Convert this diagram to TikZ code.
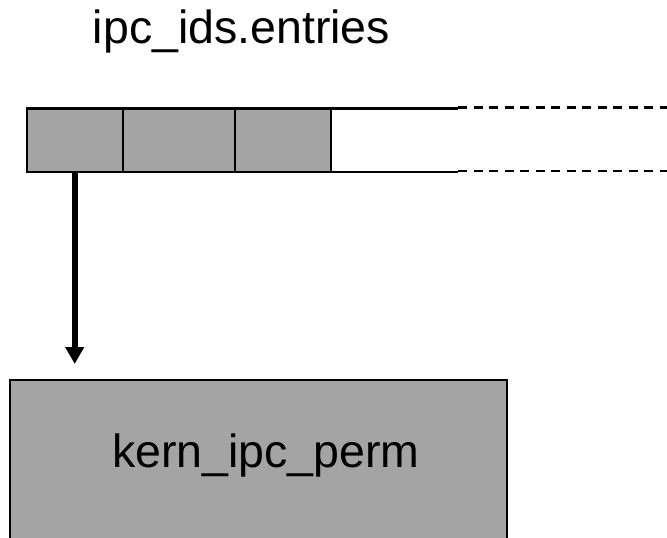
\documentclass[tikz,border=0pt]{standalone}
\usepackage{fontspec}
\setmainfont{Liberation Sans}
\usetikzlibrary{arrows.meta}
\definecolor{boxgray}{RGB}{164,164,164}
\begin{document}
\begin{tikzpicture}[x=1pt,y=-1pt,
  cell/.style={draw=black,line width=2.3pt,fill=boxgray,minimum height=63.5pt,inner sep=0pt,outer sep=0pt,anchor=north west},
  lbl/.style={font=\fontsize{46.5}{55}\selectfont,anchor=base,inner sep=0pt},
  rail/.style={line width=2.3pt},
  dashrail/.style={line width=2.6pt,dash pattern=on 9pt off 6.5pt}]
\useasboundingbox (0,0) rectangle (667,538);
\clip (0,0) rectangle (667,538);
\node[lbl] (title) at (241.5,43.3) {ipc\_ids.entries};
\coordinate (t1) at (458,108.5);
\coordinate (t1d) at (458,107.6);
\coordinate (t2) at (667,107.6);
\coordinate (b1) at (458,172);
\coordinate (b1d) at (458,171.1);
\coordinate (b2) at (667,171.1);
\node[cell,minimum width=96pt] (c1) at (26.7,108.5) {};
\node[cell,minimum width=112.3pt] (c2) at (122.7,108.5) {};
\node[cell,minimum width=96pt] (c3) at (235,108.5) {};
\draw[rail] (c3.north east) -- (t1);
\draw[rail] (c3.south east) -- (b1);
\draw[dashrail] (t1d) -- (t2);
\draw[dashrail] (b1d) -- (b2);
\node[draw=black,line width=2.3pt,fill=boxgray,minimum width=497pt,minimum height=200pt,anchor=north west,inner sep=0pt,outer sep=0pt] (kern) at (10,380) {};
\node[lbl] (kernlabel) at (266,467) {kern\_ipc\_perm};
\coordinate (tip) at (c1.south |- 0,364);
\draw[line width=6.3pt,-{Triangle[length=17pt,width=18pt]}] (c1.south) -- (tip);
\end{tikzpicture}
\end{document}
